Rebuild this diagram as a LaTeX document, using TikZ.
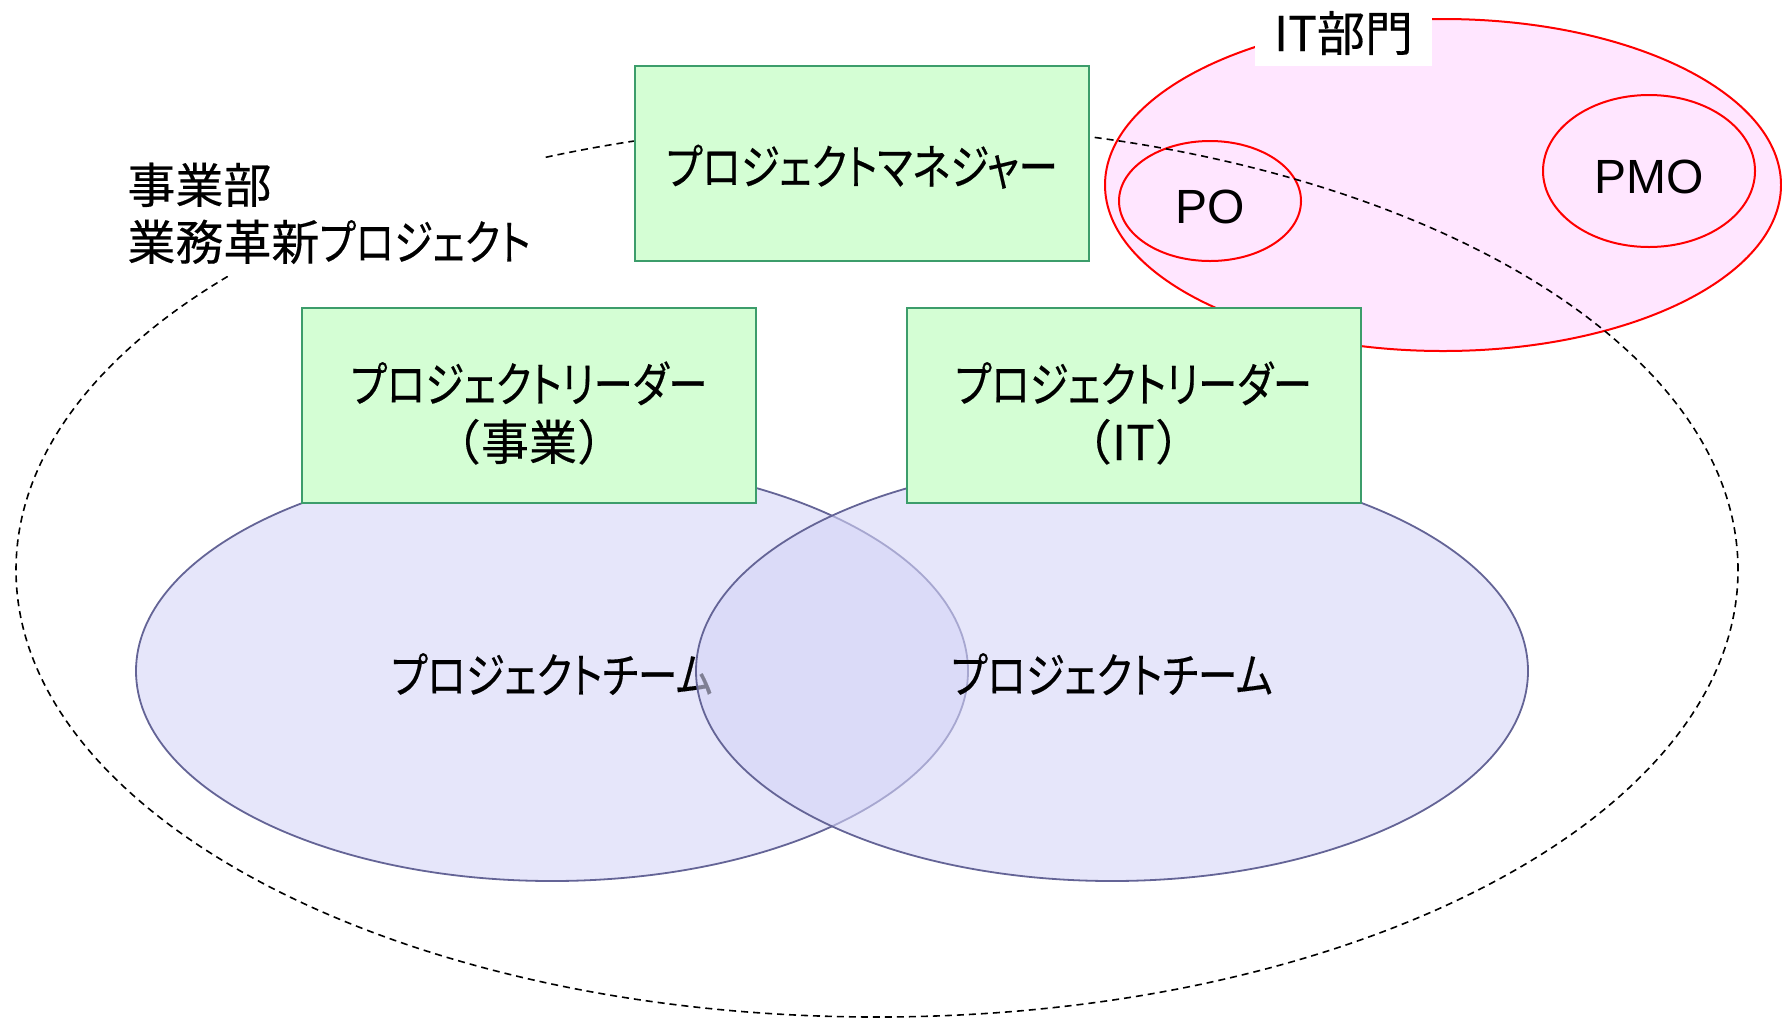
\documentclass[tikz,border=0pt]{standalone}
\usepackage{fontspec}
\newfontfamily\jp[RawFeature=+palt, FakeBold=0.3]{Noto Sans CJK JP}
\newfontfamily\jk[RawFeature=+palt, FakeStretch=0.82, FakeBold=0.3]{Noto Sans CJK JP}
\newfontfamily\lat{Liberation Sans}
\usetikzlibrary{shapes.geometric}
\definecolor{boxfill}{RGB}{212,254,212}
\definecolor{boxdraw}{RGB}{60,157,107}
\definecolor{pinkfill}{RGB}{255,230,255}
\definecolor{teamfill}{RGB}{230,230,250}
\definecolor{teamfillB}{RGB}{213,213,247}
\definecolor{teamdraw}{RGB}{100,100,150}
\begin{document}
\begin{tikzpicture}[x=0.5pt,y=-0.5pt,
  every node/.style={font=\jp\fontsize{24pt}{29pt}\selectfont},
  rolebox/.style={rectangle, draw=boxdraw, fill=boxfill, line width=1pt, minimum width=227pt, minimum height=97.5pt, align=center, inner sep=0pt, text depth=0pt},
  teamell/.style={ellipse, draw=teamdraw, line width=0.9pt, minimum width=416pt, minimum height=210pt, inner sep=0pt, text height=22pt, text depth=0pt},
  redell/.style={ellipse, draw=red, line width=1pt, inner sep=0pt, font=\lat\fontsize{24pt}{28pt}\selectfont, text height=22.5pt, text depth=0pt},
  scopeell/.style={ellipse, draw=black, line width=0.8pt, dash pattern=on 3.5pt off 2.5pt, inner sep=0pt, minimum width=861pt, minimum height=447pt}]
\useasboundingbox (0,0) rectangle (1782,1019);
% IT department
\node[redell, fill=pinkfill, minimum width=338pt, minimum height=166pt] (itarea) at (1443,185) {};
\node[redell, minimum width=91pt, minimum height=60pt] (po) at (1210,201) {PO};
\node[redell, minimum width=106pt, minimum height=76pt] (pmo) at (1649,171) {PMO};
% project scope
\node[scopeell] (bizscope) at (877,570) {};
% teams
\node[teamell, fill=teamfill] (teamL) at (552,671) {\jk プロジェクトチーム};
\node[teamell, fill=teamfillB, fill opacity=0.6, text opacity=1] (teamR) at (1112,671) {\jk プロジェクトチーム};
% role boxes
\node[rolebox, text height=21.5pt] (pm) at (862,163) {\jk プロジェクトマネジャー};
\node[rolebox, text height=55pt] (plbiz) at (529,405) {{\jk プロジェクトリーダー}\\（\kern1pt 事業\kern1pt ）};
\node[rolebox, text height=55pt] (plit) at (1133.5,405) {{\jk プロジェクトリーダー}\\（\kern1pt IT\kern1pt ）};
% labels
\node[fill=white, inner sep=0pt, align=left, minimum width=215pt, minimum height=65.5pt, text height=49.5pt, text depth=0pt, font=\jp\fontsize{24pt}{28.5pt}\selectfont] (bizlabel) at (329,210.5) {事業部\\業務革新{\jk プロジェクト}};
\node[fill=white, minimum width=88.5pt, minimum height=33pt, inner sep=0pt] (itdept) at (1343.5,33) {IT部門};
\end{tikzpicture}
\end{document}
